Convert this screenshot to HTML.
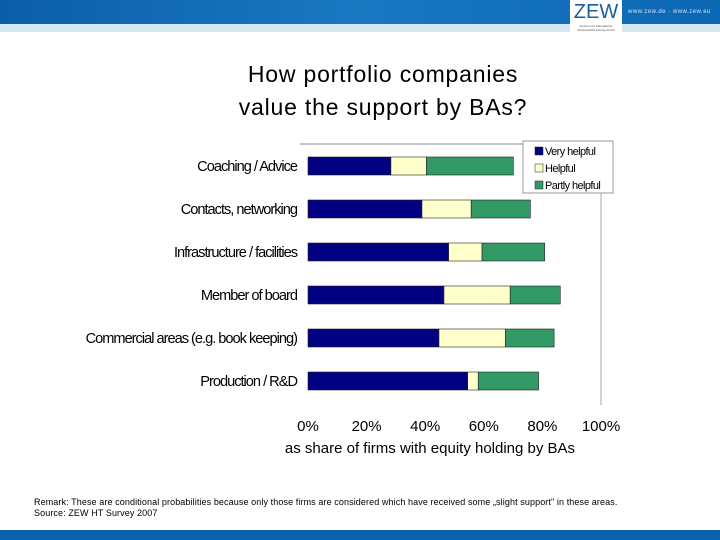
<!DOCTYPE html>
<html><head><meta charset="utf-8"><style>
body{margin:0;width:720px;height:540px;overflow:hidden;background:#fff;font-family:"Liberation Sans",sans-serif;position:relative}
.abs{position:absolute}
</style></head><body>
<div class="abs" style="left:0;top:0;width:720px;height:24px;background:linear-gradient(90deg,#0a5fa8,#1a78c2 50%,#0b67b3)"></div>
<div class="abs" style="left:0;top:24px;width:720px;height:8px;background:#d5e9f0"></div>
<div class="abs" style="left:570px;top:0;width:52px;height:36px;background:#fff;color:#1a5f9a;font-size:20px;text-align:center;line-height:24px">ZEW<div style="font-size:3px;line-height:4px;color:#555">Zentrum für Europäische<br>Wirtschaftsforschung GmbH</div></div>
<div class="abs" style="left:628px;top:9px;font-size:6px;color:#cfe3f5;letter-spacing:0.5px">www.zew.de · www.zew.eu</div>
<div class="abs" style="left:0;top:58px;width:766px;text-align:center;font-size:23px;line-height:33px;color:#000;letter-spacing:0.8px">How portfolio companies<br>value the support by BAs?</div>
<svg class="abs" style="left:0;top:0" width="720" height="540" id="chart"></svg>
<div class="abs" style="left:34px;top:497px;font-size:9px;line-height:11px;color:#000;letter-spacing:0.1px">Remark: These are conditional probabilities because only those firms are considered which have received some „slight support" in these areas.<br>Source: ZEW HT Survey 2007</div>
<div class="abs" style="left:0;top:530px;width:720px;height:10px;background:#0b63ad"></div>
<script>
const categories=["Coaching / Advice","Contacts, networking","Infrastructure / facilities","Member of board","Commercial areas (e.g. book keeping)","Production / R&D"];
const veryHelpful=[28.3,38.9,48,46.4,44.7,54.5];
const helpful=[12.1,16.8,11.4,22.6,22.7,3.6];
const partlyHelpful=[29.7,20.2,21.4,17.1,16.6,20.6];
const xTicks=[0,20,40,60,80,100];
const seriesNames=["Very helpful","Helpful","Partly helpful"];
const colors=["#000080","#ffffcc","#339966"];
const NS="http://www.w3.org/2000/svg",svg=document.getElementById('chart');
const x0=308,x1=601;const xs=v=>x0+(x1-x0)*v/100;
const yTop=157,step=43,bh=18;const ys=i=>yTop+i*step;
function mk(t,a){const e=document.createElementNS(NS,t);for(const k in a)e.setAttribute(k,a[k]);svg.appendChild(e);return e;}
let l=mk('line',{x1:300,y1:144,x2:524,y2:144,stroke:'#888','stroke-width':1});

l=mk('line',{x1:601,y1:193,x2:601,y2:405,stroke:'#aaa','stroke-width':1});

const series=[veryHelpful,helpful,partlyHelpful];
categories.forEach((c,i)=>{
 let acc=0;
 series.forEach((s,k)=>{
  const r=mk('rect',{x:xs(acc),y:ys(i),width:xs(acc+s[i])-xs(acc),height:bh,fill:colors[k],stroke:'#222','stroke-width':0.6});
  
  
  acc+=s[i];
 });
 const t=mk('text',{x:297,y:ys(i)+14,'text-anchor':'end','font-size':14.6,'letter-spacing':-1,fill:'#000'});
 t.textContent=c;
 
 
});
xTicks.forEach(v=>{
 const t=mk('text',{x:xs(v),y:431,'text-anchor':'middle','font-size':15,fill:'#000'});
 t.textContent=v+'%';
 
 
});
const xt=mk('text',{x:430,y:453,'text-anchor':'middle','font-size':15,fill:'#000'});
xt.textContent='as share of firms with equity holding by BAs';


const lg=mk('rect',{x:523,y:141,width:90,height:52,fill:'#fff',stroke:'#999','stroke-width':1});


seriesNames.forEach((n,k)=>{
 const r=mk('rect',{x:535,y:147+k*17,width:8,height:8,fill:colors[k],stroke:'#222','stroke-width':0.5});
 
 
 const t=mk('text',{x:545,y:155+k*17,'font-size':11,'letter-spacing':-0.6,fill:'#000'});
 t.textContent=n;
 
 
});
</script>
</body></html>
